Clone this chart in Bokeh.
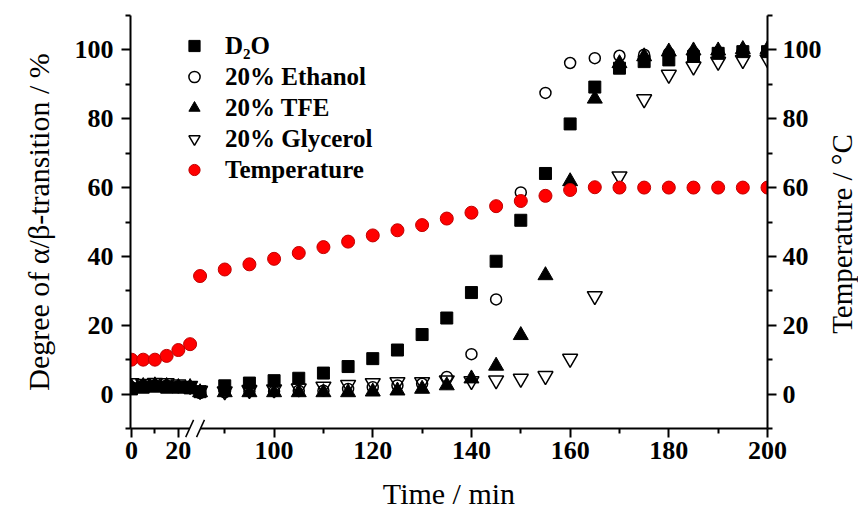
import math
from bokeh.plotting import figure
from bokeh.layouts import row
from bokeh.models import Range1d, LinearAxis, FixedTicker, Legend, LegendItem
from bokeh.core.properties import value
from bokeh.embed import file_html
from bokeh.resources import INLINE

# ---------------- data ----------------
time_min = [0, 5, 10, 15, 20, 25,
            85, 90, 95, 100, 105, 110, 115, 120, 125, 130, 135, 140,
            145, 150, 155, 160, 165, 170, 175, 180, 185, 190, 195, 200]

d2o = [1.5, 2.0, 2.3, 2.0, 2.0, 1.8,
       0.7, 2.4, 3.2, 3.9, 4.6, 6.1, 8.0, 10.3, 12.8, 17.3, 22.1, 29.5,
       38.6, 50.5, 64.1, 78.5, 89.2, 94.7, 96.6, 97.1, 98.1, 99.0, 99.5, 99.5]

ethanol = [2.0, 2.5, 2.5, 2.5, 2.2, 2.0,
           0.3, 0.5, 0.8, 0.8, 1.0, 1.0, 1.5, 2.0, 2.5, 3.0, 5.0, 11.6,
           27.5, 58.6, 87.5, 96.2, 97.6, 98.3, 98.6, 99.0, 99.2, 99.4, 99.6, 99.6]

tfe = [2.0, 2.3, 2.5, 2.3, 2.0, 2.0,
       0.5, 0.5, 0.5, 0.5, 0.5, 0.5, 0.5, 0.7, 1.0, 1.5, 2.5, 4.5,
       8.2, 17.1, 34.5, 61.8, 85.8, 96.1, 98.1, 99.5, 99.8, 99.8, 100.2, 100.2]

glycerol = [3.2, 3.0, 3.3, 3.2, 2.8, 2.4,
            1.0, 0.8, 1.2, 1.4, 1.7, 2.2, 2.7, 3.2, 3.5, 3.5, 4.0, 3.8,
            4.0, 4.5, 5.3, 10.3, 28.5, 63.3, 85.7, 92.8, 95.2, 96.6, 97.1, 97.3]

temperature = [10.0, 10.0, 10.0, 11.1, 12.8, 14.5,
               34.3, 36.2, 37.7, 39.3, 41.0, 42.7, 44.3, 46.1, 47.6, 49.1, 51.0, 52.7,
               54.6, 56.1, 57.6, 59.3, 60.1, 60.0, 60.0, 60.0, 60.0, 60.0, 60.0, 60.0]

y_major = [0, 20, 40, 60, 80, 100]
y_minor = [-10, 10, 30, 50, 70, 90, 110]
x_major = [0, 20, 100, 120, 140, 160, 180, 200]
x_minor = [10, 90, 110, 130, 150, 170, 190]

right_title = "Temperature / \u00b0C"

# ---------------- broken time axis ----------------
BREAK_AFTER = 50          # times up to this are on the compressed early segment
EARLY_ORIGIN = 71.1       # axis position of t = 0
EARLY_SCALE = 0.475       # compression of the early segment


def axis_pos(t):
    return float(t) if t > BREAK_AFTER else EARLY_ORIGIN + EARLY_SCALE * t


xs = [axis_pos(t) for t in time_min]

FONT = "Liberation Serif"
X0, X1 = 70.9, 200
Y0, Y1 = -10, 110
TOP, BOTTOM = 15, 84

p = figure(width=824, height=512, output_backend="svg", toolbar_location=None,
           x_range=Range1d(X0, X1), y_range=Range1d(Y0, Y1),
           min_border_left=130, min_border_right=54, min_border_top=TOP,
           min_border_bottom=BOTTOM)
p.extra_y_ranges = {"temp": Range1d(Y0, Y1)}
p.grid.visible = False
p.outline_line_color = None
p.background_fill_color = "white"
p.border_fill_color = "white"


def style_axis(ax):
    ax.axis_line_width = 2
    ax.axis_line_color = "black"
    ax.major_tick_line_width = 2
    ax.minor_tick_line_width = 2
    ax.major_tick_line_color = "black"
    ax.minor_tick_line_color = "black"
    ax.major_tick_out = 9
    ax.major_tick_in = 0
    ax.minor_tick_out = 5
    ax.minor_tick_in = 0
    ax.major_label_text_font = FONT
    ax.major_label_text_font_style = "bold"
    ax.major_label_text_font_size = "26px"
    ax.major_label_text_color = "black"
    ax.axis_label_text_font = FONT
    ax.axis_label_text_font_style = "normal"
    ax.axis_label_text_font_size = "30px"
    ax.axis_label_text_color = "black"


xax = p.xaxis[0]
xax.ticker = FixedTicker(ticks=[axis_pos(v) for v in x_major],
                         minor_ticks=[axis_pos(v) for v in x_minor])
xax.major_label_overrides = {axis_pos(v): str(v) for v in x_major}
xax.axis_label = "Time / min"
style_axis(xax)
xax.major_label_standoff = 4
xax.axis_label_standoff = 15

yax = p.yaxis[0]
yax.ticker = FixedTicker(ticks=y_major, minor_ticks=y_minor)
yax.axis_label = "Degree of \u03b1/\u03b2-transition / %"
style_axis(yax)
yax.major_label_standoff = 8
yax.axis_label_standoff = 17

rax = LinearAxis(y_range_name="temp",
                 ticker=FixedTicker(ticks=y_major, minor_ticks=y_minor))
style_axis(rax)
rax.major_label_standoff = 6
p.add_layout(rax, "right")

# ---------------- markers ----------------
r_d2o = p.scatter(xs, d2o, marker="square", size=12,
                  fill_color="black", line_color="black")
r_eth = p.scatter(xs, ethanol, marker="circle", size=11,
                  fill_color=None, line_color="black", line_width=1.5)
r_tfe = p.scatter(xs, tfe, marker="triangle", size=15,
                  fill_color="black", line_color="black")
r_gly = p.scatter(xs, glycerol, marker="inverted_triangle", size=15,
                  fill_color=None, line_color="black", line_width=1.5)
r_tmp = p.scatter(xs, temperature, marker="circle", size=13,
                  fill_color="#ff0000", line_color="#c00000", line_width=1,
                  y_range_name="temp")

legend = Legend(items=[
    LegendItem(label="D\u2082O", renderers=[r_d2o]),
    LegendItem(label="20% Ethanol", renderers=[r_eth]),
    LegendItem(label="20% TFE", renderers=[r_tfe]),
    LegendItem(label="20% Glycerol", renderers=[r_gly]),
    LegendItem(label="Temperature", renderers=[r_tmp]),
], location=(50, 243))
legend.label_text_font = FONT
legend.label_text_font_style = "bold"
legend.label_text_font_size = "25px"
legend.label_text_color = "black"
legend.glyph_width = 28
legend.glyph_height = 31
legend.label_height = 31
legend.label_standoff = 17
legend.spacing = 0
legend.padding = 0
legend.margin = 0
legend.border_line_color = None
legend.background_fill_alpha = 0
p.add_layout(legend)

# ---------------- axis break mark "//" ----------------
brk_mid = (axis_pos(25) + 85) / 2
brk_gap = 1.1      # half distance between the two slashes (axis units)
brk_dx = 0.8       # half horizontal extent of a slash
brk_dy = 2.5       # half vertical extent of a slash
p.segment(x0=[brk_mid - brk_gap], y0=[Y0], x1=[brk_mid + brk_gap], y1=[Y0],
          line_color="white", line_width=4, level="overlay")
p.segment(x0=[brk_mid - brk_gap - brk_dx, brk_mid + brk_gap - brk_dx],
          y0=[Y0 - brk_dy, Y0 - brk_dy],
          x1=[brk_mid - brk_gap + brk_dx, brk_mid + brk_gap + brk_dx],
          y1=[Y0 + brk_dy, Y0 + brk_dy],
          line_color="black", line_width=1.5, level="overlay")

# ---------------- right-hand title strip (reads bottom-to-top) ----------------
t = figure(width=34, height=512, output_backend="svg", toolbar_location=None,
           x_range=Range1d(0, 34), y_range=Range1d(Y0, Y1),
           x_axis_type=None, y_axis_type=None,
           min_border_left=0, min_border_right=0, min_border_top=TOP,
           min_border_bottom=BOTTOM)
t.grid.visible = False
t.outline_line_color = None
t.background_fill_color = "white"
t.border_fill_color = "white"
t.text(x=[17], y=[46.5], text=[right_title], angle=math.pi / 2,
       text_font=value(FONT), text_font_size="29px", text_color="black",
       text_align="center", text_baseline="middle")

layout = row(p, t, spacing=0)
open("out.html", "w").write(file_html(layout, INLINE))
